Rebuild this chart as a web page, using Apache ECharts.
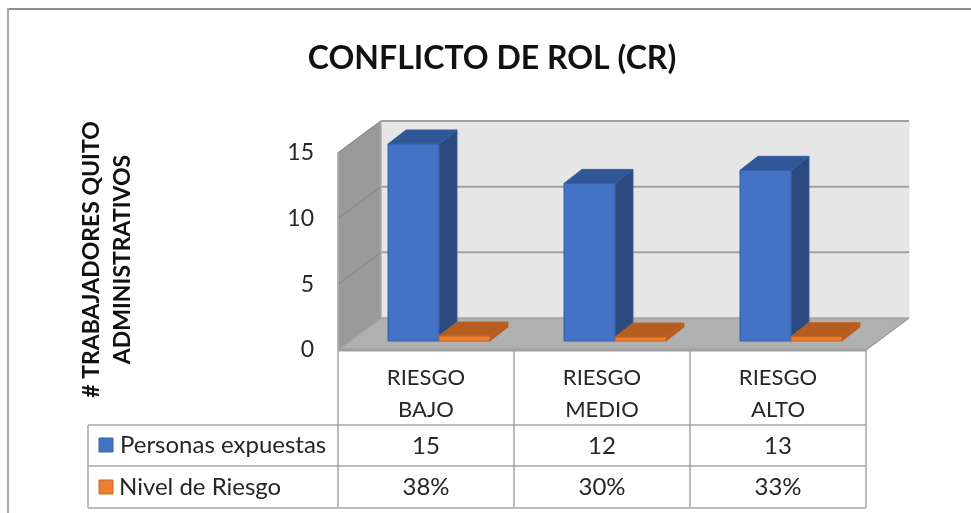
<!DOCTYPE html>
<html>
<head>
<meta charset="utf-8">
<style>html,body{margin:0;padding:0;background:#fff}#c{width:971px;height:513px}</style>
<script src="https://cdn.jsdelivr.net/npm/echarts@6/dist/echarts.min.js"></script>
</head>
<body>
<div id="c"></div>
<script>
const chartTitle = 'CONFLICTO DE ROL (CR)';
const yAxisTitle = '# TRABAJADORES QUITO\nADMINISTRATIVOS';
const categories = ['RIESGO\nBAJO', 'RIESGO\nMEDIO', 'RIESGO\nALTO'];
const personasExpuestas = [15, 12, 13];
const nivelDeRiesgo = [0.38, 0.30, 0.33];
const yTicks = [0, 5, 10, 15];
const seriesNames = ['Personas expuestas', 'Nivel de Riesgo'];

const FONT = 'Lato';
const GRID = {left: 338, top: 153, width: 528, height: 197};
const WALL = {dx: 43, dy: -32};
const BAR = {width: 51, dx: 13, dy: -9, depthX: 18, depthY: -14};
const ROWS = [425, 466, 508];
const TABLE_LEFT = 88;
const LINE = '#A6A6A6';

function poly(points, fill, stroke, w) {
  return {type: 'polygon', shape: {points}, style: {fill, stroke: stroke || fill, lineWidth: w === undefined ? 1 : w}};
}
function seg(x1, y1, x2, y2, stroke, w) {
  return {type: 'line', shape: {x1, y1, x2, y2}, style: {stroke, lineWidth: w}};
}

function renderWalls(params, api) {
  const r = params.coordSys;
  const xl = r.x, xr = r.x + r.width;
  const y0 = api.coord([0, 0])[1], yTop = api.coord([0, yTicks[yTicks.length - 1]])[1];
  const d = WALL;
  const ch = [
    poly([[xl + d.dx, yTop + d.dy], [xr + d.dx, yTop + d.dy], [xr + d.dx, y0 + d.dy], [xl + d.dx, y0 + d.dy]], '#E6E6E6'),
    poly([[xl, yTop], [xl + d.dx, yTop + d.dy], [xl + d.dx, y0 + d.dy], [xl, y0]], '#9A9A9A'),
    poly([[xl, y0], [xl + d.dx, y0 + d.dy], [xr + d.dx, y0 + d.dy], [xr, y0]], '#B0B0B0')
  ];
  yTicks.forEach(function (t) {
    const y = api.coord([0, t])[1];
    ch.push(seg(xl, y, xl + d.dx, y + d.dy, t === 0 ? '#A0A0A0' : '#8C8C8C', 1.5));
    ch.push(seg(xl + d.dx, y + d.dy, xr + d.dx, y + d.dy, '#A0A0A0', t === 0 ? 1 : 2));
  });
  ch.push(seg(xl + d.dx, yTop + d.dy, xl + d.dx, y0 + d.dy, '#B4B4B4', 1));
  ch.push(seg(xl, yTop, xl, y0, '#B0B0B0', 1.5));
  ch.push(seg(xl, y0, xr, y0, '#A0A0A0', 3));
  ch.push(seg(xr, y0, xr + d.dx, y0 + d.dy, '#A0A0A0', 1.5));
  return {type: 'group', children: ch};
}

function makeBar(side, front, top, dark, edge) {
  return function (params, api) {
    const idx = api.value(0);
    const c = api.coord([idx, api.value(1)]);
    const b = api.coord([idx, 0]);
    const x0 = c[0] + BAR.dx + (side < 0 ? -BAR.width : 0);
    const x1 = x0 + BAR.width;
    const yT = c[1] + BAR.dy, yB = b[1] + BAR.dy;
    const ax = BAR.depthX, ay = BAR.depthY;
    return {type: 'group', children: [
      poly([[x1, yT], [x1 + ax, yT + ay], [x1 + ax, yB + ay], [x1, yB]], dark, edge),
      poly([[x0, yT], [x0 + ax, yT + ay], [x1 + ax, yT + ay], [x1, yT]], top, edge),
      poly([[x0, yT], [x1, yT], [x1, yB], [x0, yB]], front, edge)
    ]};
  };
}

function cellText(text, x, y, size, align) {
  return {type: 'text', style: {text, x, y, fill: '#262626', font: size + 'px ' + FONT, textAlign: align || 'center', textVerticalAlign: 'middle'}};
}

function renderTable(params, api) {
  const r = params.coordSys;
  const idx = api.value(0);
  const x = api.coord([idx, 0])[0];
  const w = api.size([1, 0])[0];
  const y0 = r.y + r.height;
  const ch = [
    seg(x + w / 2, y0, x + w / 2, ROWS[2], LINE, 1.5),
    cellText(String(personasExpuestas[idx]), x, (ROWS[0] + ROWS[1]) / 2 + 1, 24),
    cellText(Math.round(nivelDeRiesgo[idx] * 100) + '%', x, (ROWS[1] + ROWS[2]) / 2, 24)
  ];
  if (idx === 0) {
    ch.push(seg(r.x, y0, r.x, ROWS[2], LINE, 1.5));
    ROWS.forEach(function (y) { ch.push(seg(TABLE_LEFT, y, r.x + r.width, y, LINE, 1.5)); });
    ch.push(seg(TABLE_LEFT, ROWS[0], TABLE_LEFT, ROWS[2], LINE, 1.5));
    ch.push({type: 'rect', shape: {x: 99, y: 438, width: 14, height: 14}, style: {fill: '#4472C4', stroke: '#3A62AA', lineWidth: 1}});
    ch.push({type: 'rect', shape: {x: 99, y: 480, width: 14, height: 14}, style: {fill: '#ED7D31', stroke: '#C96A28', lineWidth: 1}});
    ch.push(cellText(seriesNames[0], 120, (ROWS[0] + ROWS[1]) / 2, 24, 'left'));
    ch.push(cellText(seriesNames[1], 119, (ROWS[1] + ROWS[2]) / 2, 24, 'left'));
  }
  return {type: 'group', children: ch};
}

const option = {
  backgroundColor: '#fff',
  animation: false,
  title: {
    text: chartTitle, left: 487, top: 38, textAlign: 'center',
    textStyle: {fontFamily: FONT, fontWeight: 'bold', fontSize: 32, color: '#111'}
  },
  grid: GRID,
  xAxis: {
    type: 'category', data: categories,
    axisLine: {show: false}, axisTick: {show: false},
    axisLabel: {fontFamily: FONT, fontSize: 22, color: '#262626', lineHeight: 32, margin: 12}
  },
  yAxis: {
    type: 'value', min: 0, max: 15, interval: 5,
    axisLine: {show: false}, axisTick: {show: false}, splitLine: {show: false},
    axisLabel: {fontFamily: FONT, fontSize: 23, color: '#262626', margin: 24, padding: [3, 0, 0, 0]},
    name: yAxisTitle, nameLocation: 'middle', nameRotate: 90, nameGap: 200,
    nameTextStyle: {fontFamily: FONT, fontSize: 23, fontWeight: 'bold', color: '#111', lineHeight: 31, padding: [0, 16, 0, 0]}
  },
  graphic: [
    {type: 'line', silent: true, shape: {x1: 8, y1: 9, x2: 971, y2: 9}, style: {stroke: '#8E8E8E', lineWidth: 2}},
    {type: 'line', silent: true, shape: {x1: 8, y1: 8, x2: 8, y2: 513}, style: {stroke: '#A8A8A8', lineWidth: 2}}
  ],
  series: [
    {type: 'custom', name: 'walls', z: 1, data: [[0]], renderItem: renderWalls, silent: true},
    {type: 'custom', name: seriesNames[0], z: 2, encode: {x: 0, y: 1},
     data: personasExpuestas.map(function (v, i) { return [i, v]; }),
     renderItem: makeBar(-1, '#4472C4', '#315695', '#2A4A80', '#335FA8')},
    {type: 'custom', name: seriesNames[1], z: 3, encode: {x: 0, y: 1},
     data: nivelDeRiesgo.map(function (v, i) { return [i, v]; }),
     renderItem: makeBar(1, '#ED7D31', '#B55D20', '#B55D20', '#C0651F')},
    {type: 'custom', name: 'table', z: 4, silent: true,
     data: categories.map(function (c, i) { return [i]; }),
     renderItem: renderTable}
  ]
};
const chart = echarts.init(document.getElementById('c'), null, {renderer: 'canvas'});
chart.setOption(option);
</script>
</body>
</html>
